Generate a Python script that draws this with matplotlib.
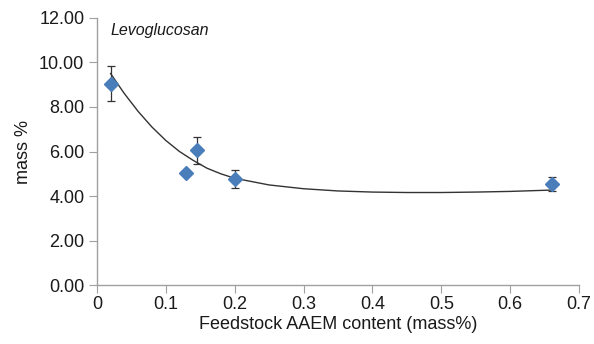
import matplotlib
matplotlib.use('Agg')
import matplotlib.pyplot as plt

plt.rcParams['font.family'] = ['Liberation Sans', 'DejaVu Sans']

# measured points
x_data = [0.02, 0.13, 0.145, 0.20, 0.66]
y_data = [9.05, 5.05, 6.05, 4.75, 4.55]
y_err = [0.8, 0.0, 0.6, 0.4, 0.3]

# trend line
x_fit = [0.02, 0.04, 0.06, 0.08, 0.10, 0.12, 0.14, 0.16, 0.18, 0.20,
         0.25, 0.30, 0.35, 0.40, 0.45, 0.50, 0.55, 0.60, 0.66]
y_fit = [9.5, 8.6, 7.8, 7.1, 6.5, 6.0, 5.6, 5.25, 5.0, 4.8,
         4.5, 4.33, 4.23, 4.18, 4.16, 4.16, 4.18, 4.21, 4.27]

x_ticks = [0, 0.1, 0.2, 0.3, 0.4, 0.5, 0.6, 0.7]
y_ticks = [0, 2, 4, 6, 8, 10, 12]

fig = plt.figure(figsize=(5.94, 3.44), dpi=100)
ax = fig.add_axes([0.163, 0.171, 0.812, 0.777])

ax.plot(x_fit, y_fit, color='#333333', linewidth=1.0, zorder=2)
ax.errorbar(x_data, y_data, yerr=y_err, fmt='none', ecolor='#333333',
            elinewidth=0.9, capsize=3, capthick=0.9, zorder=3)
ax.plot(x_data, y_data, linestyle='none', marker='D', markersize=7,
        color='#4a7ebb', markeredgecolor='#4a7ebb', zorder=4)

ax.set_xlim(0, 0.7)
ax.set_ylim(0, 12)
ax.set_xticks(x_ticks)
ax.set_xticklabels(['0', '0.1', '0.2', '0.3', '0.4', '0.5', '0.6', '0.7'])
ax.set_yticks(y_ticks)
ax.set_yticklabels(['%.2f' % v for v in y_ticks])

for s in ['top', 'right']:
    ax.spines[s].set_visible(False)
for s in ['left', 'bottom']:
    ax.spines[s].set_color('#a0a0a0')
    ax.spines[s].set_linewidth(1.0)
ax.tick_params(direction='out', color='#a0a0a0', length=6, labelsize=13,
               labelcolor='#1a1a1a')
ax.tick_params(axis='x', pad=2)
ax.tick_params(axis='y', pad=3)

ax.set_xlabel('Feedstock AAEM content (mass%)', fontsize=13, color='#1a1a1a', labelpad=2)
ax.set_ylabel('mass %', fontsize=13, color='#1a1a1a', labelpad=5)
ax.text(0.02, 11.45, 'Levoglucosan', fontsize=11.5, style='italic', color='#1a1a1a',
        va='center')

fig.savefig('out.png', dpi=100)
